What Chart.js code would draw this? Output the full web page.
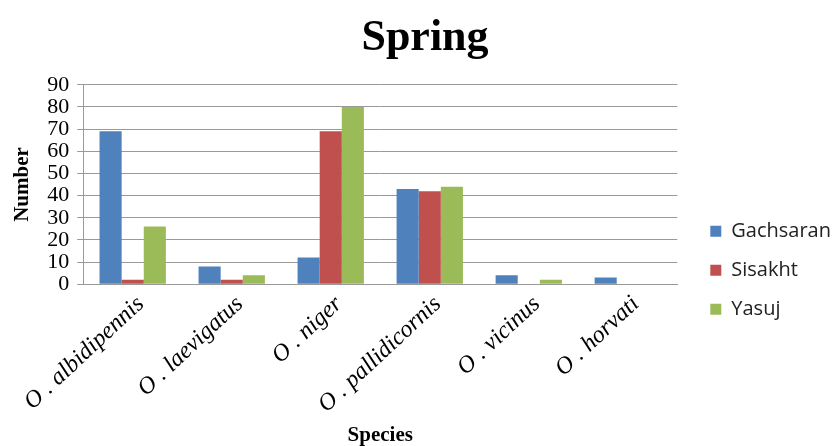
<!DOCTYPE html>
<html>
<head>
<meta charset="utf-8">
<script src="https://cdn.jsdelivr.net/npm/chart.js@4"></script>
<style>
  html, body { margin: 0; padding: 0; background: #fff; }
  #wrap { width: 840px; height: 446px; }
</style>
</head>
<body>
<div id="wrap"><canvas id="chart" width="840" height="446"></canvas></div>
<script>
const species = ['O . albidipennis', 'O . laevigatus', 'O . niger', 'O . pallidicornis', 'O . vicinus', 'O . horvati'];
const gachsaran = [69, 8, 12, 43, 4, 3];
const sisakht = [2, 2, 69, 42, 0, 0];
const yasuj = [26, 4, 80, 44, 2, 0];
const yTicks = [0, 10, 20, 30, 40, 50, 60, 70, 80, 90];

const serif = '"Liberation Serif", "Times New Roman", serif';

// widen the legend box a little and push it right, so there is a gap after the plot
const legendShift = {
    id: 'legendShift',
    beforeLayout(chart) {
        const lg = chart.legend;
        if (lg && !lg._patched) {
            const fit = lg.fit;
            lg.fit = function () { fit.call(this); this.width += 13; };
            lg._patched = true;
        }
    },
    afterLayout(chart) {
        chart.legend.left += 14;
        chart.legend.right += 14;
    }
};

const ctx = document.getElementById('chart').getContext('2d');
const chart = new Chart(ctx, {
    type: 'bar',
    data: {
        labels: species,
        datasets: [
            { label: 'Gachsaran', data: gachsaran, backgroundColor: '#4f81bd' },
            { label: 'Sisakht', data: sisakht, backgroundColor: '#c0504d' },
            { label: 'Yasuj', data: yasuj, backgroundColor: '#9bbb59' }
        ]
    },
    plugins: [legendShift],
    options: {
        responsive: false,
        animation: false,
        layout: { padding: { left: 10, right: 0, top: 10, bottom: 0 } },
        datasets: {
            bar: { categoryPercentage: 0.67, barPercentage: 1.0 }
        },
        plugins: {
            title: {
                display: true,
                text: 'Spring',
                color: '#000',
                font: { family: serif, size: 44, weight: 'bold' },
                padding: { top: 2, bottom: 20 }
            },
            legend: {
                position: 'right',
                title: {
                    display: true,
                    text: ' ',
                    font: { size: 12 },
                    padding: { top: 0, bottom: 70 }
                },
                labels: {
                    color: '#222',
                    boxWidth: 11,
                    boxHeight: 11,
                    padding: 19,
                    font: { family: '"Open Sans", sans-serif', size: 20 }
                }
            },
            tooltip: { enabled: false }
        },
        scales: {
            x: {
                grid: { display: false, drawTicks: false },
                border: { color: '#999' },
                ticks: {
                    color: '#000',
                    maxRotation: 43,
                    minRotation: 43,
                    padding: 6,
                    labelOffset: 8,
                    font: { family: serif, size: 24, style: 'italic' }
                },
                title: {
                    display: true,
                    text: 'Species',
                    color: '#000',
                    padding: { top: 0, bottom: 0 },
                    font: { family: serif, size: 21, weight: 'bold', lineHeight: 1.0 }
                }
            },
            y: {
                min: 0,
                max: 90,
                afterBuildTicks: axis => { axis.ticks = yTicks.map(v => ({ value: v })); },
                grid: { color: '#999', tickLength: 6 },
                border: { color: '#999' },
                ticks: {
                    color: '#000',
                    autoSkip: false,
                    padding: 8,
                    font: { family: serif, size: 22 }
                },
                title: {
                    display: true,
                    text: 'Number',
                    color: '#000',
                    padding: { top: 0, bottom: 4 },
                    font: { family: serif, size: 21, weight: 'bold' }
                }
            }
        }
    }
});
</script>
</body>
</html>
